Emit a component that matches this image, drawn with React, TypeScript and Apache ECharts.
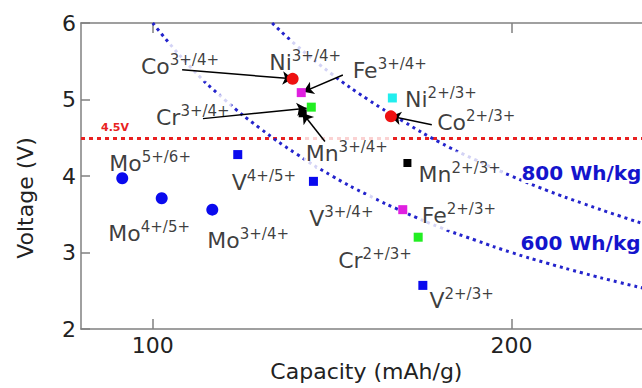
import React, { useEffect, useRef } from 'react';
import * as echarts from 'echarts';

const FONT = 'DejaVu Sans';

// ---- data ----
const xTickValues = [100, 200];
const moCouples = ['5+/6+', '4+/5+', '3+/4+'];
const moCapacity = [91.5, 102.5, 116.6];
const moVoltage = [3.97, 3.71, 3.56];

const vCouples = ['4+/5+', '3+/4+', '2+/3+'];
const vCapacity = [123.7, 144.8, 175.3];
const vVoltage = [4.28, 3.93, 2.57];

const niCouples = ['3+/4+', '2+/3+'];
const niCapacity = [139.0, 166.8];
const niVoltage = [5.27, 5.02];

const coCouples = ['3+/4+', '2+/3+'];
const coCapacity = [139.0, 166.4];
const coVoltage = [5.27, 4.78];

const feCouples = ['3+/4+', '2+/3+'];
const feCapacity = [141.4, 169.7];
const feVoltage = [5.09, 3.56];

const crCouples = ['3+/4+', '2+/3+'];
const crCapacity = [144.2, 174.0];
const crVoltage = [4.9, 3.2];

const mnCouples = ['3+/4+', '2+/3+'];
const mnCapacity = [141.8, 171.0];
const mnVoltage = [4.82, 4.17];

// iso-energy curves (Wh/kg)
const e800Capacity = [133.3, 140, 150, 160, 170, 180, 190, 200, 210, 220, 230, 240, 250];
const e800Voltage = [6.0, 5.71, 5.33, 5.0, 4.71, 4.44, 4.21, 4.0, 3.81, 3.64, 3.48, 3.33, 3.2];
const e600Capacity = [100, 110, 120, 130, 140, 150, 160, 170, 180, 190, 200, 210, 220, 230, 240, 250];
const e600Voltage = [6.0, 5.45, 5.0, 4.62, 4.29, 4.0, 3.75, 3.53, 3.33, 3.16, 3.0, 2.86, 2.73, 2.61, 2.5, 2.4];

const thresholdVoltage = 4.5;

// arrows: from label side to marker
const arrowFrom = [[108.2, 5.39], [153.0, 5.32], [114.0, 4.75], [148.0, 4.45], [177.8, 4.67]];
const arrowTo = [[139.0, 5.27], [142.0, 5.1], [142.9, 4.885], [141.8, 4.82], [166.4, 4.78]];

// ---- layout / style (not data) ----
const BLUE = '#0a0aee';
const CURVE = '#2424cc';
const groups = [
  { el: 'Ni', couples: niCouples, cap: niCapacity, volt: niVoltage, symbol: 'rect', size: 9, color: '#22eeee' },
  { el: 'Mo', couples: moCouples, cap: moCapacity, volt: moVoltage, symbol: 'circle', size: 12, color: BLUE },
  { el: 'V', couples: vCouples, cap: vCapacity, volt: vVoltage, symbol: 'rect', size: 9, color: BLUE },
  { el: 'Fe', couples: feCouples, cap: feCapacity, volt: feVoltage, symbol: 'rect', size: 9, color: '#e020e0' },
  { el: 'Cr', couples: crCouples, cap: crCapacity, volt: crVoltage, symbol: 'rect', size: 9, color: '#22ee22' },
  { el: 'Mn', couples: mnCouples, cap: mnCapacity, volt: mnVoltage, symbol: 'rect', size: 8, color: '#000000' },
  { el: 'Co', couples: coCouples, cap: coCapacity, volt: coVoltage, symbol: 'circle', size: 12, color: '#ee1111' },
];

// pixel offset from marker centre to label left / text middle
const labelOffsets: Record<string, [number, number]> = {
  'Co3+/4+': [-151.7, -12.6],
  'Ni3+/4+': [-23.4, -15.9],
  'Fe3+/4+': [51.4, -22],
  'Cr3+/4+': [-155.3, 10.1],
  'Mn3+/4+': [3, 39.8],
  'Ni2+/3+': [12.7, 2],
  'Co2+/3+': [46.3, 5.7],
  'Mn2+/3+': [11.2, 11.6],
  'Mo5+/6+': [-13, -15.2],
  'V4+/5+': [-6, 28.1],
  'Mo4+/5+': [-53.4, 35.8],
  'Mo3+/4+': [-5, 30.7],
  'V3+/4+': [-4.3, 36.7],
  'Fe2+/3+': [19, 5.4],
  'Cr2+/3+': [-80, 23.4],
  'V2+/3+': [6.6, 15],
};

const PAD: [number, number, number, number] = [9, 2, 1, 2];

export default function App() {
  const ref = useRef<HTMLDivElement>(null);
  useEffect(() => {
    if (!ref.current) return;
    const chart = echarts.init(ref.current, null, { renderer: 'svg' });

    const markerSeries = groups.map((g) => ({
      type: 'scatter',
      name: g.el,
      z: 5,
      symbol: g.symbol,
      symbolSize: g.size,
      itemStyle: { color: g.color, opacity: 1 },
      data: g.cap.map((c, i) => ({ name: g.el + g.couples[i], value: [c, g.volt[i]] })),
      silent: true,
    }));

    const labelData: any[] = [];
    groups.forEach((g) => {
      g.cap.forEach((c, i) => {
        const key = g.el + g.couples[i];
        const off = labelOffsets[key];
        if (!off) return;
        labelData.push({
          name: key,
          value: [c, g.volt[i]],
          label: {
            show: true,
            position: 'inside',
            align: 'left',
            verticalAlign: 'middle',
            offset: [off[0] - PAD[3], off[1] - (PAD[0] - PAD[2]) / 2],
            formatter: `{b|${g.el}}{s|${g.couples[i]}}`,
            backgroundColor: '#ffffff',
            padding: PAD,
            rich: {
              b: { fontFamily: FONT, fontSize: 22, lineHeight: 28, color: '#0a0a0a' },
              s: { fontFamily: FONT, fontSize: 15, lineHeight: 15, verticalAlign: 'top', color: '#0a0a0a' },
            },
          },
        });
      });
    });

    const curveLine = { color: CURVE, width: 3, type: [3, 4] as number[], cap: 'butt' };

    chart.setOption({
      animation: false,
      grid: { left: 81, top: 23, width: 609.8, height: 306, containLabel: false, outerBoundsMode: 'none' },
      xAxis: [
        {
          type: 'value',
          position: 'bottom',
          min: 80,
          max: 250,
          name: 'Capacity (mAh/g)',
          nameLocation: 'middle',
          nameGap: 30,
          nameTextStyle: { fontFamily: FONT, fontSize: 22, color: '#222', padding: [0, 39, 0, 0] },
          axisLine: { lineStyle: { color: '#808080', width: 1.5 } },
          axisTick: { inside: true, length: 10, customValues: xTickValues, lineStyle: { color: '#808080', width: 1.5 } },
          axisLabel: { customValues: xTickValues, fontFamily: FONT, fontSize: 22, color: '#222', margin: 5 },
          splitLine: { show: false },
        },
        {
          type: 'value',
          position: 'top',
          min: 80,
          max: 250,
          axisLine: { lineStyle: { color: '#808080', width: 1.5 } },
          axisTick: { inside: true, length: 10, customValues: xTickValues, lineStyle: { color: '#808080', width: 1.5 } },
          axisLabel: { show: false },
          splitLine: { show: false },
        },
      ],
      yAxis: {
        type: 'value',
        min: 2,
        max: 6,
        interval: 1,
        name: 'Voltage (V)',
        nameLocation: 'middle',
        nameGap: 45,
        nameTextStyle: { fontFamily: FONT, fontSize: 22, color: '#222', padding: [0, 44, 0, 0] },
        axisLine: { show: true, lineStyle: { color: '#808080', width: 1.5 } },
        axisTick: { show: true, inside: true, length: 9, lineStyle: { color: '#808080', width: 1.5 } },
        axisLabel: { fontFamily: FONT, fontSize: 22, color: '#222', margin: 5 },
        splitLine: { show: false },
      },
      series: [
        {
          type: 'line',
          name: '800 Wh/kg',
          z: 1,
          smooth: true,
          showSymbol: false,
          silent: true,
          lineStyle: curveLine,
          data: e800Capacity.map((c, i) => [c, e800Voltage[i]]),
          markPoint: {
            z: 2,
            symbol: 'rect',
            symbolSize: 1,
            itemStyle: { color: 'rgba(0,0,0,0)' },
            silent: true,
            label: {
              show: true,
              position: 'inside',
              align: 'left',
              verticalAlign: 'middle',
              offset: [10, -3],
              formatter: '800 Wh/kg',
              fontFamily: FONT,
              fontWeight: 'bold',
              fontSize: 20,
              color: '#1414cc',
              backgroundColor: '#ffffff',
            },
            data: [{ coord: [e800Capacity[7], e800Voltage[7]] }],
          },
          markLine: {
            z: 1,
            silent: true,
            symbol: ['none', 'none'],
            lineStyle: { color: '#e82222', width: 3, type: [4, 4] },
            label: {
              show: true,
              position: 'insideStartTop',
              distance: [20, 5],
              formatter: '4.5V',
              fontFamily: FONT,
              fontWeight: 'bold',
              fontSize: 11,
              color: '#e82222',
            },
            data: [{ yAxis: thresholdVoltage }],
          },
        },
        {
          type: 'line',
          name: '600 Wh/kg',
          z: 1,
          smooth: true,
          showSymbol: false,
          silent: true,
          lineStyle: curveLine,
          data: e600Capacity.map((c, i) => [c, e600Voltage[i]]),
          markPoint: {
            z: 2,
            symbol: 'rect',
            symbolSize: 1,
            itemStyle: { color: 'rgba(0,0,0,0)' },
            silent: true,
            label: {
              show: true,
              position: 'inside',
              align: 'left',
              verticalAlign: 'middle',
              offset: [45, 2.6],
              formatter: '600 Wh/kg',
              fontFamily: FONT,
              fontWeight: 'bold',
              fontSize: 20,
              color: '#1414cc',
              backgroundColor: '#ffffff',
            },
            data: [{ coord: [e600Capacity[9], e600Voltage[9]] }],
          },
        },
        {
          type: 'scatter',
          name: 'labels',
          z: 3,
          symbol: 'rect',
          symbolSize: 1,
          itemStyle: { color: 'rgba(0,0,0,0)' },
          silent: true,
          data: labelData,
        },
        {
          type: 'lines',
          name: 'arrows',
          coordinateSystem: 'cartesian2d',
          z: 4,
          silent: true,
          symbol: ['none', 'arrow'],
          symbolSize: 10,
          lineStyle: { color: '#000000', width: 1.5, opacity: 1 },
          data: arrowFrom.map((f, i) => ({ coords: [f, arrowTo[i]] })),
        },
        ...markerSeries,
      ],
    });
    return () => chart.dispose();
  }, []);
  return (
    <div
      ref={ref}
      style={{ position: 'fixed', left: 0, top: 0, width: 642, height: 388, background: '#fff' }}
    />
  );
}
